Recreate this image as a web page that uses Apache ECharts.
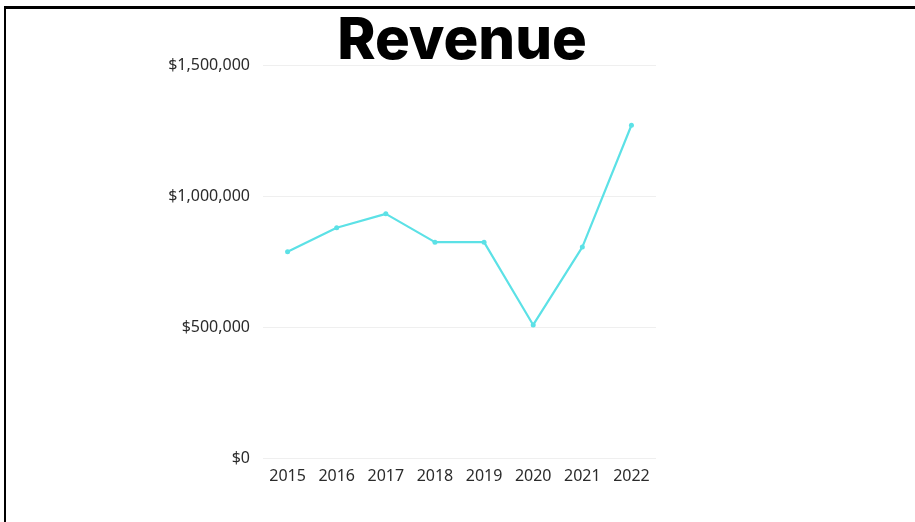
<!DOCTYPE html>
<html><head><meta charset="utf-8">
<script src="https://cdn.jsdelivr.net/npm/echarts@6/dist/echarts.min.js"></script>
<style>
html,body{margin:0;padding:0;background:#fff;}
#frame{position:absolute;left:4px;top:6px;width:911px;height:516px;border-left:2px solid #000;border-top:3px solid #000;box-sizing:border-box;}
#chart{position:absolute;left:0;top:0;width:915px;height:522px;}
</style></head>
<body>
<div id="frame"></div>
<div id="chart"></div>
<script>
const years = ['2015','2016','2017','2018','2019','2020','2021','2022'];
const revenue = [789000, 881000, 934000, 826000, 826000, 510000, 807000, 1272000];
const yTicks = [0, 500000, 1000000, 1500000];

const chart = echarts.init(document.getElementById('chart'), null, {renderer:'canvas'});
chart.setOption({
  animation:false,
  backgroundColor:'transparent',
  title:{
    text:'Revenue', left:457, top:8, textAlign:'center',
    textStyle:{fontFamily:'Inter', fontWeight:800, fontSize:58, color:'#000'}
  },
  grid:{left:263, right:259, top:65.5, bottom:63.4, containLabel:false},
  xAxis:{
    type:'category', data:years, boundaryGap:true,
    axisLine:{show:false}, axisTick:{show:false},
    axisLabel:{fontFamily:'Noto Sans', fontSize:16, color:'#2b2b2b', margin:10}
  },
  yAxis:{
    type:'value', min:0, max:1500000, interval:500000,
    axisLine:{show:false}, axisTick:{show:false},
    splitLine:{lineStyle:{color:'#efefef', width:1}},
    axisLabel:{fontFamily:'Noto Sans', fontSize:16, color:'#2b2b2b', margin:13,
      formatter:v=>'$'+v.toLocaleString('en-US')}
  },
  series:[{
    type:'line', data:revenue, symbol:'circle', symbolSize:5,
    lineStyle:{color:'#5ce1e6', width:2.2},
    itemStyle:{color:'#5ce1e6'}
  }]
});
</script>
</body></html>
